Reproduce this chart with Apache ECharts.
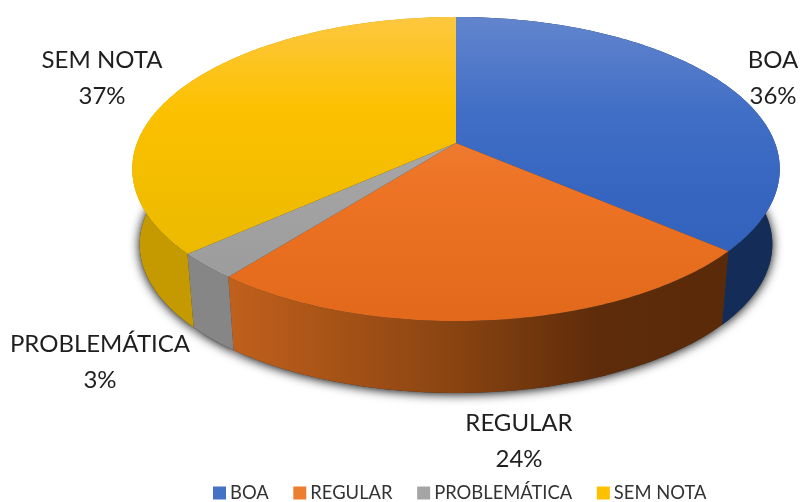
<!DOCTYPE html>
<html>
<head>
<meta charset="utf-8">
<title>Pie 3D</title>
<style>
  html, body { margin: 0; padding: 0; background: #fff; }
  #main { width: 800px; height: 502px; }
</style>
<script src="https://cdn.jsdelivr.net/npm/echarts@6/dist/echarts.min.js"></script>
</head>
<body>
<div id="main"></div>
<script>
// dados
var categories = ['BOA', 'REGULAR', 'PROBLEMÁTICA', 'SEM NOTA'];
var values = [36.3, 24.3, 2.8, 36.6];

// cores e posicao dos rotulos, fora dos dados
var legendColors = ['#4472c4', '#ed7d31', '#a5a5a5', '#ffc000'];
var topStops = [
  [[0, '#6285cd'], [0.3, '#426fc6'], [0.6, '#3565c0'], [1, '#2f60b6']],
  [[0, '#f08a48'], [0.6, '#ed7223'], [1, '#e2691b']],
  [[0, '#b0b0b0'], [1, '#999999']],
  [[0, '#fdc740'], [0.3, '#fcc100'], [0.7, '#eebb00'], [1, '#e6b500']]
];
var wallStops = [
  [[0, '#11284f'], [1, '#142d58']],
  [[0, '#c0601c'], [0.45, '#8a4411'], [0.75, '#5e2c0a'], [1, '#5a2a09']],
  [[0, '#868686'], [1, '#7a7a7a']],
  [[0, '#c49a00'], [1, '#cfa300']]
];
var labelPos = [[773, 78], [519, 441], [100, 362], [102, 78]];

// projecao em perspectiva do disco
var cx = 456, cy = 143, a = 319, b = 147.6, p = 0.171;
var baseScale = 0.977, baseDy = 219 - 143;
var total = values.reduce(function (s, v) { return s + v; }, 0);

function rim(theta, scale, dy) {
  var X = Math.sin(theta), Y = -Math.cos(theta);
  var w = 1 - p * Y;
  return [cx + a * X / w * scale, cy + dy + b * Y / w * scale];
}

function arc(start, end, scale, dy) {
  var pts = [];
  var n = Math.max(4, Math.ceil((end - start) * 60));
  for (var i = 0; i <= n; i++) {
    pts.push(rim(start + (end - start) * i / n, scale, dy));
  }
  return pts;
}

function grad(x, y, x2, y2, stops) {
  return new echarts.graphic.LinearGradient(x, y, x2, y2, stops.map(function (s) {
    return { offset: s[0], color: s[1] };
  }), true);
}

function makeRender(idx) {
  return function (params, api) {
    var before = values.slice(0, idx).reduce(function (s, v) { return s + v; }, 0);
    var start = before / total * Math.PI * 2;
    var end = start + api.value(0) / total * Math.PI * 2;
    var topArc = arc(start, end, 1, 0);
    var baseArc = arc(start, end, baseScale, baseDy);
    var pct = Math.round(api.value(0) / total * 100);
    return {
      type: 'group',
      children: [
        { // sombra sob a base
          type: 'polygon',
          z2: 1,
          shape: { points: [[cx, cy + baseDy]].concat(baseArc) },
          style: { fill: '#333', shadowBlur: 11, shadowColor: 'rgba(0,0,0,1)', shadowOffsetY: 1 }
        },
        { // parede lateral
          type: 'polygon',
          z2: 2,
          shape: { points: topArc.concat(baseArc.slice().reverse()) },
          style: { fill: grad(231, 0, 720, 0, wallStops[idx]) }
        },
        { // face de cima
          type: 'polygon',
          z2: 3,
          shape: { points: [[cx, cy]].concat(topArc) },
          style: { fill: grad(0, 17, 0, 321, topStops[idx]) }
        },
        {
          type: 'text',
          z2: 4,
          x: labelPos[idx][0],
          y: labelPos[idx][1],
          style: {
            text: categories[idx] + '\n' + pct + '%',
            fill: '#1f1f1f',
            font: '24px Lato',
            lineHeight: 36,
            align: 'center',
            verticalAlign: 'middle'
          }
        }
      ]
    };
  };
}

var chart = echarts.init(document.getElementById('main'));

var series = [];
for (var i = 0; i < categories.length; i++) {
  series.push({
    type: 'custom',
    name: categories[i],
    coordinateSystem: 'none',
    silent: true,
    animation: false,
    clip: false,
    itemStyle: { color: legendColors[i] },
    renderItem: makeRender(i),
    data: [[values[i]]]
  });
}

chart.setOption({
  animation: false,
  legend: {
    data: categories,
    left: 213,
    top: 484,
    padding: 0,
    icon: 'rect',
    itemWidth: 13,
    itemHeight: 13,
    itemGap: 24.6,
    selectedMode: false,
    textStyle: { color: '#333333', fontFamily: 'Lato', fontSize: 18.4, padding: [0, 0, 0, -1] }
  },
  series: series
});
</script>
</body>
</html>
